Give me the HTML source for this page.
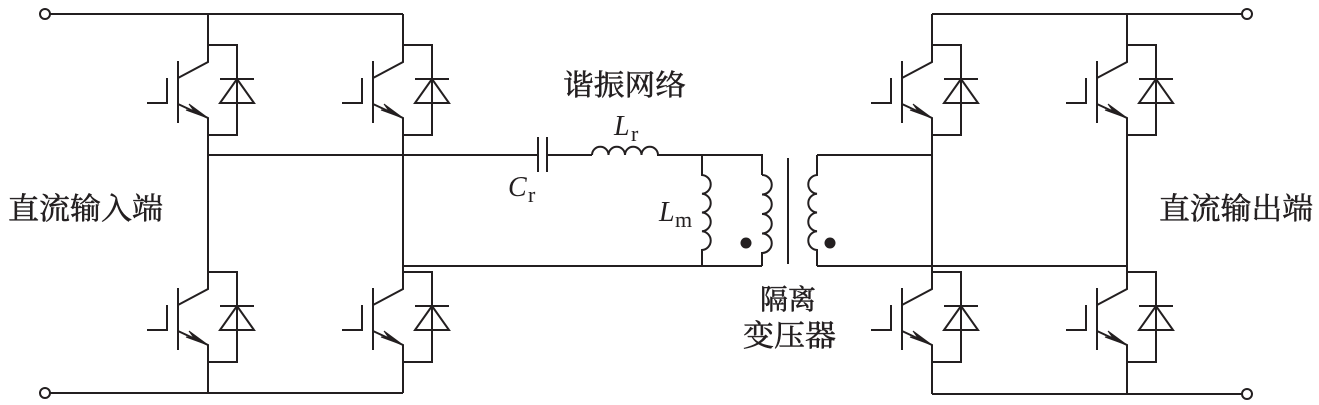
<!DOCTYPE html>
<html><head><meta charset="utf-8"><style>
html,body{margin:0;padding:0;background:#fff;}
svg{display:block;}
text{font-family:"Liberation Serif","Noto Serif CJK SC",serif;fill:#231f20;}
.cjk{stroke:#231f20;stroke-width:0.5;}
</style></head><body>
<svg width="1319" height="405" viewBox="0 0 1319 405" xmlns="http://www.w3.org/2000/svg">
<defs>
<g id="sw" fill="none" stroke="#231f20" stroke-width="2">
<path d="M0,0 V17 L-30,33 M-30,59 L0,73 V90 M0,0 H29 V90 H0 M-30,16 V78 M-41,33 V58 H-61 M12,34 H46 M29,34 L12,58 H46 Z"/>
<path d="M0,73 L-19,59 L-14,66 L-22,65 Z" fill="#231f20" stroke-width="1"/>
</g>
</defs>
<g fill="none" stroke="#231f20" stroke-width="2">
<circle cx="45" cy="14" r="5" fill="#fff"/>
<circle cx="45" cy="393" r="5" fill="#fff"/>
<path d="M50,14 H403 M50,393 H403"/>
<path d="M208,14 V45 M208,135 V272 M208,362 V393"/>
<path d="M403,14 V45 M403,135 V272 M403,362 V393"/>
<path d="M208,155 H538 M403,266 H762"/>
<circle cx="1247" cy="14" r="5" fill="#fff"/>
<circle cx="1247" cy="394" r="5" fill="#fff"/>
<path d="M932,14 H1242 M932,394 H1242"/>
<path d="M932,14 V45 M932,135 V272 M932,362 V394"/>
<path d="M1127,14 V45 M1127,135 V272 M1127,362 V394"/>
<path d="M817,155 H932 M817,266 H1127"/>
<path d="M538,137 V172 M547,137 V172 M547,155 H592"/>
<path d="M592,155 a8.25,8.25 0 0 1 16.5,0 a8.25,8.25 0 0 1 16.5,0 a8.25,8.25 0 0 1 16.5,0 a8.25,8.25 0 0 1 16.5,0 H762 V175"/>
<path d="M702,155 V175 a9.4,9.4 0 0 1 0,18.75 a9.4,9.4 0 0 1 0,18.75 a9.4,9.4 0 0 1 0,18.75 a9.4,9.4 0 0 1 0,18.75 V266"/>
<path d="M762,175 a9.75,9.75 0 0 1 0,19.5 a9.75,9.75 0 0 1 0,19.5 a9.75,9.75 0 0 1 0,19.5 a9.75,9.75 0 0 1 0,19.5 V266"/>
<path d="M788,158 V264"/>
<path d="M817,155 V175 a9.4,9.4 0 0 0 0,18.75 a9.4,9.4 0 0 0 0,18.75 a9.4,9.4 0 0 0 0,18.75 a9.4,9.4 0 0 0 0,18.75 V266"/>
</g>
<circle cx="746" cy="243" r="5.5" fill="#231f20"/>
<circle cx="830" cy="243" r="5.5" fill="#231f20"/>
<use href="#sw" x="208" y="45"/>
<use href="#sw" x="403" y="45"/>
<use href="#sw" x="208" y="272"/>
<use href="#sw" x="403" y="272"/>
<use href="#sw" x="932" y="45"/>
<use href="#sw" x="1127" y="45"/>
<use href="#sw" x="932" y="272"/>
<use href="#sw" x="1127" y="272"/>
<text class="cjk" x="8" y="219" font-size="30" textLength="155" lengthAdjust="spacingAndGlyphs">直流输入端</text>
<text class="cjk" x="1159" y="219" font-size="30" textLength="154" lengthAdjust="spacingAndGlyphs">直流输出端</text>
<text class="cjk" x="563" y="95" font-size="29" textLength="123" lengthAdjust="spacingAndGlyphs">谐振网络</text>
<text class="cjk" x="760" y="309" font-size="28" textLength="56" lengthAdjust="spacingAndGlyphs">隔离</text>
<text class="cjk" x="743" y="346" font-size="30" textLength="93" lengthAdjust="spacingAndGlyphs">变压器</text>
<text x="614" y="135" font-size="28" font-style="italic">L</text>
<text x="631" y="141" font-size="22">r</text>
<text x="508" y="196" font-size="28" font-style="italic">C</text>
<text x="528" y="202" font-size="22">r</text>
<text x="659" y="221" font-size="28" font-style="italic">L</text>
<text x="675" y="227" font-size="22">m</text>
</svg>
</body></html>
